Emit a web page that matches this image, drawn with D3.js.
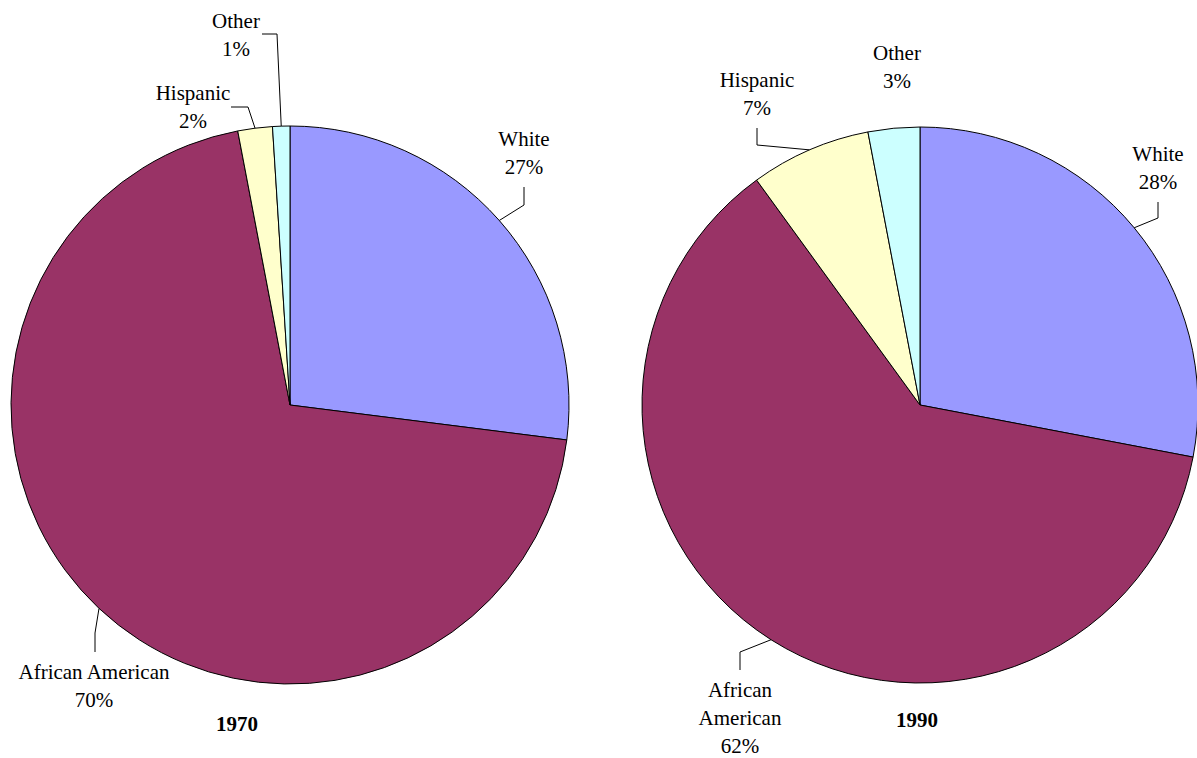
<!DOCTYPE html>
<html>
<head>
<meta charset="utf-8">
<script src="https://cdn.jsdelivr.net/npm/d3@7"></script>
<style>
  html, body { margin: 0; padding: 0; background: #fff; }
  svg { display: block; }
  text { font-family: "Liberation Serif", "Times New Roman", serif; font-size: 21px; fill: #000; }
</style>
</head>
<body>
<svg id="chart" width="1197" height="758"></svg>
<script>
// Population shares by group, clockwise from 12 o'clock
const groups = ["White", "African American", "Hispanic", "Other"];
const share1970 = [27, 70, 2, 1];
const share1990 = [28, 62, 7, 3];
const years = ["1970", "1990"];
const colors = ["#9999FF", "#993366", "#FFFFCC", "#CCFFFF"];

// Layout of each pie and its callouts (text lines centred at x, first baseline at y;
// leader runs from the slice edge through the listed points)
const pies = [
  {
    year: years[0], values: share1970, cx: 290, cy: 405, r: 279,
    title: { x: 237, y: 731 },
    labels: [
      { lines: ["White"], x: 524, y: 146, leader: [[524, 205], [524, 187]] },
      { lines: ["African American"], x: 94, y: 679, leader: [[95, 633], [95, 652]] },
      { lines: ["Hispanic"], x: 193, y: 100, leader: [[248, 107], [231, 107]] },
      { lines: ["Other"], x: 236, y: 28, leader: [[277, 34], [262, 34]] }
    ]
  },
  {
    year: years[1], values: share1990, cx: 920, cy: 405, r: 278,
    title: { x: 917, y: 727 },
    labels: [
      { lines: ["White"], x: 1158, y: 161, leader: [[1158, 218], [1158, 202]] },
      { lines: ["African", "American"], x: 740, y: 697, leader: [[740, 652], [740, 670]] },
      { lines: ["Hispanic"], x: 757, y: 87, leader: [[757, 145], [757, 128]] },
      { lines: ["Other"], x: 897, y: 60, leader: null }
    ]
  }
];

const svg = d3.select("#chart");
const pie = d3.pie().sort(null).value(d => d.value).startAngle(0).endAngle(2 * Math.PI);
const color = d3.scaleOrdinal().domain(groups).range(colors);
const lineHeight = 28;

pies.forEach(p => {
  const data = groups.map((g, i) => ({ group: g, value: p.values[i] }));
  const arcs = pie(data);
  const arc = d3.arc().innerRadius(0).outerRadius(p.r);

  const g = svg.append("g").attr("transform", `translate(${p.cx},${p.cy})`);
  g.selectAll("path.slice")
    .data(arcs)
    .join("path")
    .attr("class", "slice")
    .attr("d", arc)
    .attr("fill", d => color(d.data.group))
    .attr("stroke", "#000")
    .attr("stroke-width", 1)
    .attr("stroke-linejoin", "round");

  // callouts
  arcs.forEach((a, i) => {
    const lab = p.labels[i];
    const mid = (a.startAngle + a.endAngle) / 2;
    if (lab.leader) {
      const start = [p.cx + p.r * Math.sin(mid), p.cy - p.r * Math.cos(mid)];
      const pts = [start].concat(lab.leader);
      svg.append("path")
        .attr("d", d3.line()(pts))
        .attr("fill", "none")
        .attr("stroke", "#000")
        .attr("stroke-width", 1);
    }
    const lines = lab.lines.concat([d3.format(".0f")(a.data.value) + "%"]);
    const t = svg.append("text").attr("text-anchor", "middle");
    lines.forEach((s, k) => {
      t.append("tspan").attr("x", lab.x).attr("y", lab.y + k * lineHeight).text(s);
    });
  });

  svg.append("text")
    .attr("x", p.title.x)
    .attr("y", p.title.y)
    .attr("text-anchor", "middle")
    .attr("font-weight", "bold")
    .text(p.year);
});
</script>
</body>
</html>
